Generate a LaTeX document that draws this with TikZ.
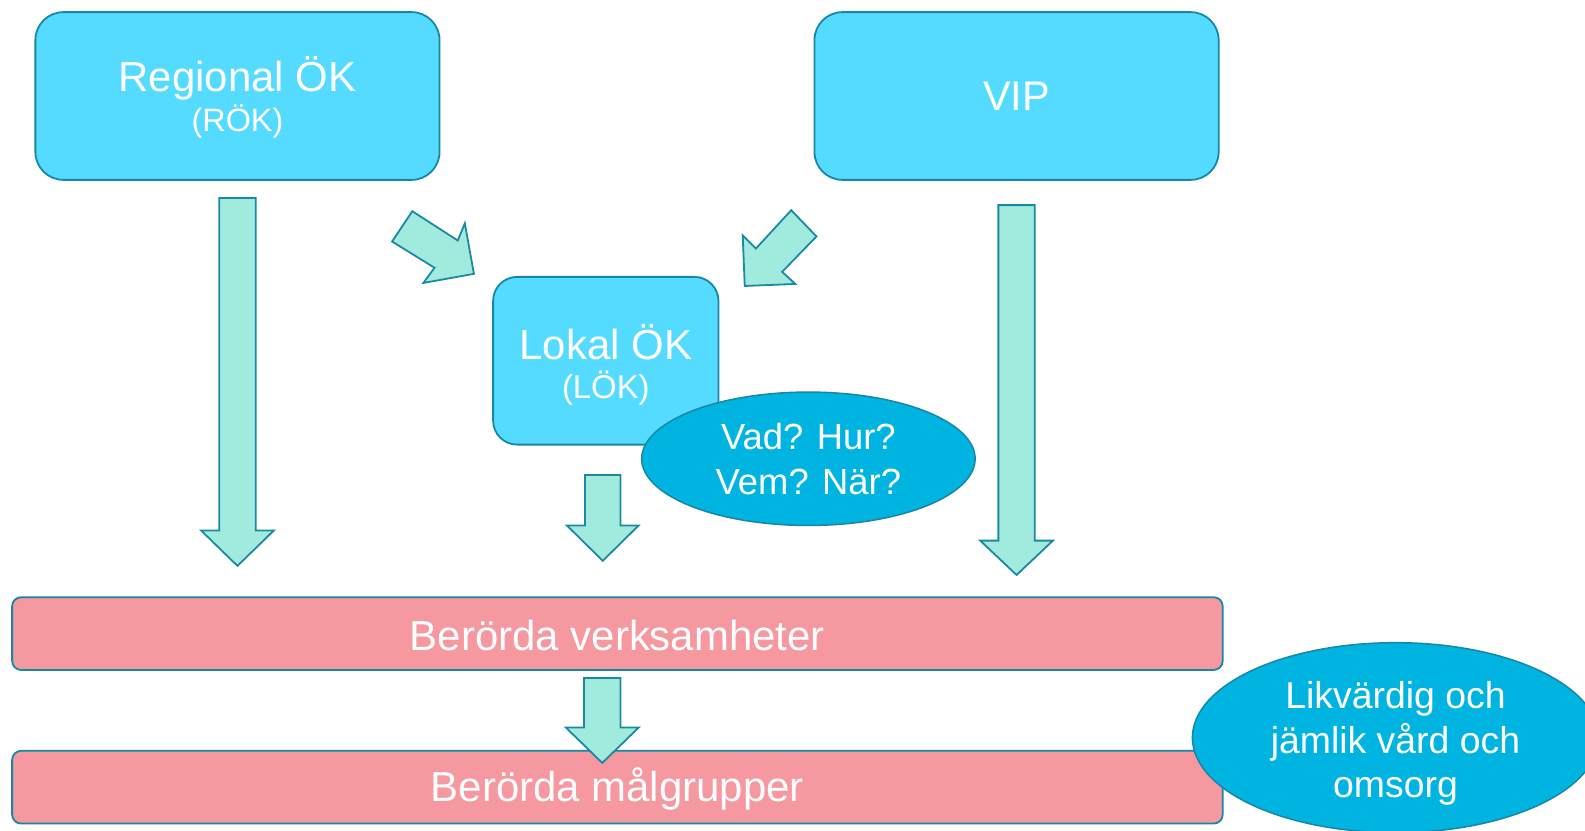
\documentclass[tikz,border=0pt]{standalone}
\usepackage{fontspec}
\setmainfont{Liberation Sans}
\usetikzlibrary{shapes.geometric}
\definecolor{boxblue}{HTML}{55DBFF}
\definecolor{edge}{HTML}{1687A6}
\definecolor{arrfill}{HTML}{A0EADE}
\definecolor{arredge}{HTML}{1A8AA2}
\definecolor{pinkbar}{HTML}{F598A0}
\definecolor{ellblue}{HTML}{00B4E1}
\tikzset{
  bluebox/.style={draw=edge, line width=1.8pt, fill=boxblue, rounded corners=28pt, text=white, align=center, inner sep=0pt},
  pinkbox/.style={draw=edge, line width=1.8pt, fill=pinkbar, rounded corners=9pt, text=white, inner sep=0pt},
  bubble/.style={ellipse, draw=edge, line width=1.5pt, fill=ellblue, text=white, align=center, inner sep=0pt},
  blockarrow/.style={draw=arredge, line width=1.8pt, fill=arrfill, line join=miter},
  bartext/.style={text=white, font=\fontsize{41.5}{46}\selectfont},
}
\begin{document}
\begin{tikzpicture}[x=1pt,y=-1pt]
\useasboundingbox (0,0) rectangle (1585,830);
\clip (0,0) rectangle (1585,830);
\begin{scope}[scale=1.0105, transform shape]
% boxes
\node[bluebox, minimum width=400pt, minimum height=166pt] (rok) at (235,95) {};
\node[text=white, font=\fontsize{41.5}{46}\selectfont] (roktitle) at (235,77) {Regional ÖK};
\node[text=white, font=\fontsize{32}{36}\selectfont] (roksub) at (235,120) {(RÖK)};
\node[bluebox, minimum width=400pt, minimum height=166pt, font=\fontsize{41}{46}\selectfont] (vip) at (1006,95) {VIP};
\node[bluebox, rounded corners=24pt, minimum width=223pt, minimum height=166pt] (lok) at (599.5,357) {};
\node[text=white, font=\fontsize{41.5}{46}\selectfont] (loktitle) at (599.5,339) {Lokal ÖK};
\node[text=white, font=\fontsize{32.5}{36}\selectfont] (loksub) at (599.5,384) {(LÖK)};
\node[bubble, minimum width=330pt, minimum height=132pt, font=\fontsize{36}{44}\selectfont] (vad) at (800,454) {Vad? Hur?\\Vem? När?};
% bars
\node[pinkbox, minimum width=1198pt, minimum height=72pt] (verk) at (611,627) {};
\node[bartext] (verktext) at (611,629) {Berörda verksamheter};
\node[pinkbox, minimum width=1198pt, minimum height=72pt] (malg) at (611,779) {};
\node[bartext] (malgtext) at (611,781) {Berörda målgrupper};
% down arrows
\draw[blockarrow] (217,196) -- (253,196) -- (253,525) -- (271,525) -- (235,560) -- (199,525) -- (217,525) -- cycle;
\draw[blockarrow] (579,470) -- (614,470) -- (614,520) -- (632,520) -- (596.5,555) -- (561,520) -- (579,520) -- cycle;
\draw[blockarrow] (988,203) -- (1024,203) -- (1024,535) -- (1042,535) -- (1006,569) -- (970,535) -- (988,535) -- cycle;
\draw[blockarrow] (578,671) -- (614,671) -- (614,720) -- (632,720) -- (596,755) -- (560,720) -- (578,720) -- cycle;
% diagonal arrows
\draw[blockarrow] (408,209) -- (453,238) -- (460,221) -- (469,271) -- (419,280) -- (430,265) -- (388,239) -- cycle;
\draw[blockarrow] (783,208) -- (808,234) -- (774,269) -- (787,281) -- (737,283) -- (735,233) -- (748,246) -- cycle;
% outcome ellipse
\node[bubble, minimum width=402pt, minimum height=188pt] (likv) at (1381,730) {};
\node[text=white, align=center, font=\fontsize{37}{44}\selectfont] (likvtext) at (1381,736) {Likvärdig och\\jämlik vård och\\omsorg};
\end{scope}
\end{tikzpicture}
\end{document}
